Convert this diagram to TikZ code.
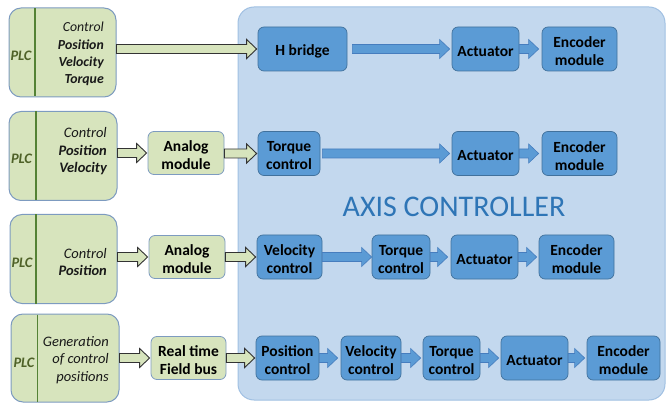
\documentclass[tikz,border=0pt]{standalone}
\usepackage{fontspec}
\setmainfont{Carlito}
\usetikzlibrary{calc}
\definecolor{greenfill}{HTML}{D7E4BD}
\definecolor{plcborder}{RGB}{125,155,192}
\definecolor{divgreen}{HTML}{548235}
\definecolor{plcgreen}{HTML}{4F6228}
\definecolor{axisfill}{RGB}{195,216,238}
\definecolor{axisborder}{RGB}{160,192,226}
\definecolor{bluefill}{HTML}{5B9BD5}
\definecolor{blueborder}{HTML}{41719C}
\definecolor{bluearrowborder}{RGB}{70,125,190}
\definecolor{axistext}{HTML}{2E75B6}
\newcommand\barrow[5]{%
  \path[#1] let \p1=(#2.east), \p2=(#3.west) in
    (\x1+#4pt,\y2+4.5pt) -- (\x2-#5pt-10pt,\y2+4.5pt) -- (\x2-#5pt-10pt,\y2+9.5pt)
    -- (\x2-#5pt,\y2) -- (\x2-#5pt-10pt,\y2-9.5pt) -- (\x2-#5pt-10pt,\y2-4.5pt)
    -- (\x1+#4pt,\y2-4.5pt) -- cycle;}
% box with its text: style, name, x, y, width, text
\newcommand\tbox[6]{%
  \node[#1,minimum width=#5pt] (#2) at (#3,#4) {};
  \node[boxtext] (#2-t) at ($(#2.center)+(0,2.5)$) {#6};}
\begin{document}
\begin{tikzpicture}[x=1pt,y=-1pt,
  plcbox/.style={draw=plcborder,fill=greenfill,line width=1pt,rounded corners=12pt,inner sep=0pt},
  modbox/.style={draw=plcborder,fill=greenfill,line width=0.8pt,rounded corners=6pt,inner sep=0pt,
    minimum height=43pt},
  axisbox/.style={draw=axisborder,fill=axisfill,line width=1pt,rounded corners=16pt,inner sep=0pt},
  bbox/.style={draw=blueborder,fill=bluefill,line width=0.7pt,rounded corners=6pt,inner sep=0pt,
    minimum height=44pt},
  boxtext/.style={inner sep=0pt,align=center,font=\fontsize{15.5}{18}\selectfont\bfseries},
  divider/.style={draw=divgreen,line width=1.6pt},
  plclabel/.style={text=plcgreen,font=\fontsize{14.5}{17}\selectfont\bfseries\itshape,inner sep=0pt},
  plctext/.style={anchor=east,align=right,inner sep=0pt,text=black!90,font=\fontsize{14.5}{17.5}\selectfont\itshape},
  garrow/.style={draw=black!80,fill=greenfill,line width=0.9pt},
  barr/.style={draw=bluearrowborder,fill=bluefill,line width=0.6pt}]
\useasboundingbox (0,0) rectangle (666,403);
% axis controller
\node[axisbox,minimum width=427pt,minimum height=393pt] (axis) at (451.5,203.5) {};
\node[text=axistext,font=\fontsize{30}{34}\selectfont,inner sep=0pt] (axt) at (454,206.5) {AXIS CONTROLLER};
% PLC boxes
\node[plcbox,minimum width=107pt,minimum height=89pt] (p1) at (62.5,52.5) {};
\node[plcbox,minimum width=108pt,minimum height=89pt] (p2) at (63,156) {};
\node[plcbox,minimum width=107pt,minimum height=89pt] (p3) at (63.5,259) {};
\node[plcbox,minimum width=108pt,minimum height=88pt] (p4) at (65,358) {};
\draw[divider] (35,8.5) -- (35,96.5);
\draw[divider] (36,111.5) -- (36,200.5);
\draw[divider] (36,214.5) -- (36,303.5);
\draw[divider] (37.5,314.5) -- (37.5,402);
\node[plclabel] (l1) at (21,56) {PLC};
\node[plclabel] (l2) at (21.5,159) {PLC};
\node[plclabel] (l3) at (22,263) {PLC};
\node[plclabel] (l4) at (24,363) {PLC};
\node[plctext,font=\fontsize{13.8}{17.2}\selectfont\itshape] (t1) at (104,54) {Control\\\bfseries Position\\\bfseries Velocity\\\bfseries Torque};
\node[plctext] (t2) at (107,151.5) {Control\\\bfseries Position\\\bfseries Velocity};
\node[plctext] (t3) at (107,262) {Control\\\bfseries Position};
\node[plctext] (t4) at (109,360) {Generation\\of control\\positions};
% row 1
\tbox{bbox}{hb}{302.5}{49}{89}{H bridge}
\tbox{bbox}{a1}{485.5}{49}{67}{Actuator}
\tbox{bbox}{e1}{579.5}{49}{75}{Encoder\\module}
% row 2
\tbox{modbox}{m2}{186}{153}{76}{Analog\\module}
\tbox{bbox}{q2}{289}{153.5}{62}{Torque\\control}
\tbox{bbox}{a2}{485.5}{153.5}{67}{Actuator}
\tbox{bbox}{e2}{579.5}{153.5}{75}{Encoder\\module}
% row 3
\tbox{modbox}{m3}{187}{257}{76}{Analog\\module}
\tbox{bbox}{v3}{289.5}{257}{65}{Velocity\\control}
\tbox{bbox}{q3}{401}{257}{58}{Torque\\control}
\tbox{bbox}{a3}{484.5}{257}{67}{Actuator}
\tbox{bbox}{e3}{576.5}{257}{75}{Encoder\\module}
% row 4
\tbox{modbox}{m4}{188.5}{358}{75}{Real time\\Field bus}
\tbox{bbox}{c4}{287.5}{358}{63}{Position\\control}
\tbox{bbox}{v4}{371}{358}{60}{Velocity\\control}
\tbox{bbox}{q4}{451.5}{358}{57}{Torque\\control}
\tbox{bbox}{a4}{534.5}{358}{67}{Actuator}
\tbox{bbox}{e4}{623.5}{358}{73}{Encoder\\module}
% arrows
\barrow{garrow}{p1}{hb}{0}{1}
\barrow{barr}{hb}{a1}{5}{2}
\barrow{barr}{a1}{e1}{0}{3}
\barrow{garrow}{p2}{m2}{0}{1}
\barrow{garrow}{m2}{q2}{0}{1}
\barrow{barr}{q2}{a2}{2}{2}
\barrow{barr}{a2}{e2}{0}{3}
\barrow{garrow}{p3}{m3}{0}{1}
\barrow{garrow}{m3}{v3}{0}{1}
\barrow{barr}{v3}{q3}{0}{0}
\barrow{barr}{q3}{a3}{0}{3}
\barrow{barr}{a3}{e3}{0}{2}
\barrow{garrow}{p4}{m4}{0}{1}
\barrow{garrow}{m4}{c4}{0}{1}
\barrow{barr}{c4}{v4}{0}{3}
\barrow{barr}{v4}{q4}{0}{2}
\barrow{barr}{q4}{a4}{0}{2}
\barrow{barr}{a4}{e4}{0}{2}
\end{tikzpicture}
\end{document}
